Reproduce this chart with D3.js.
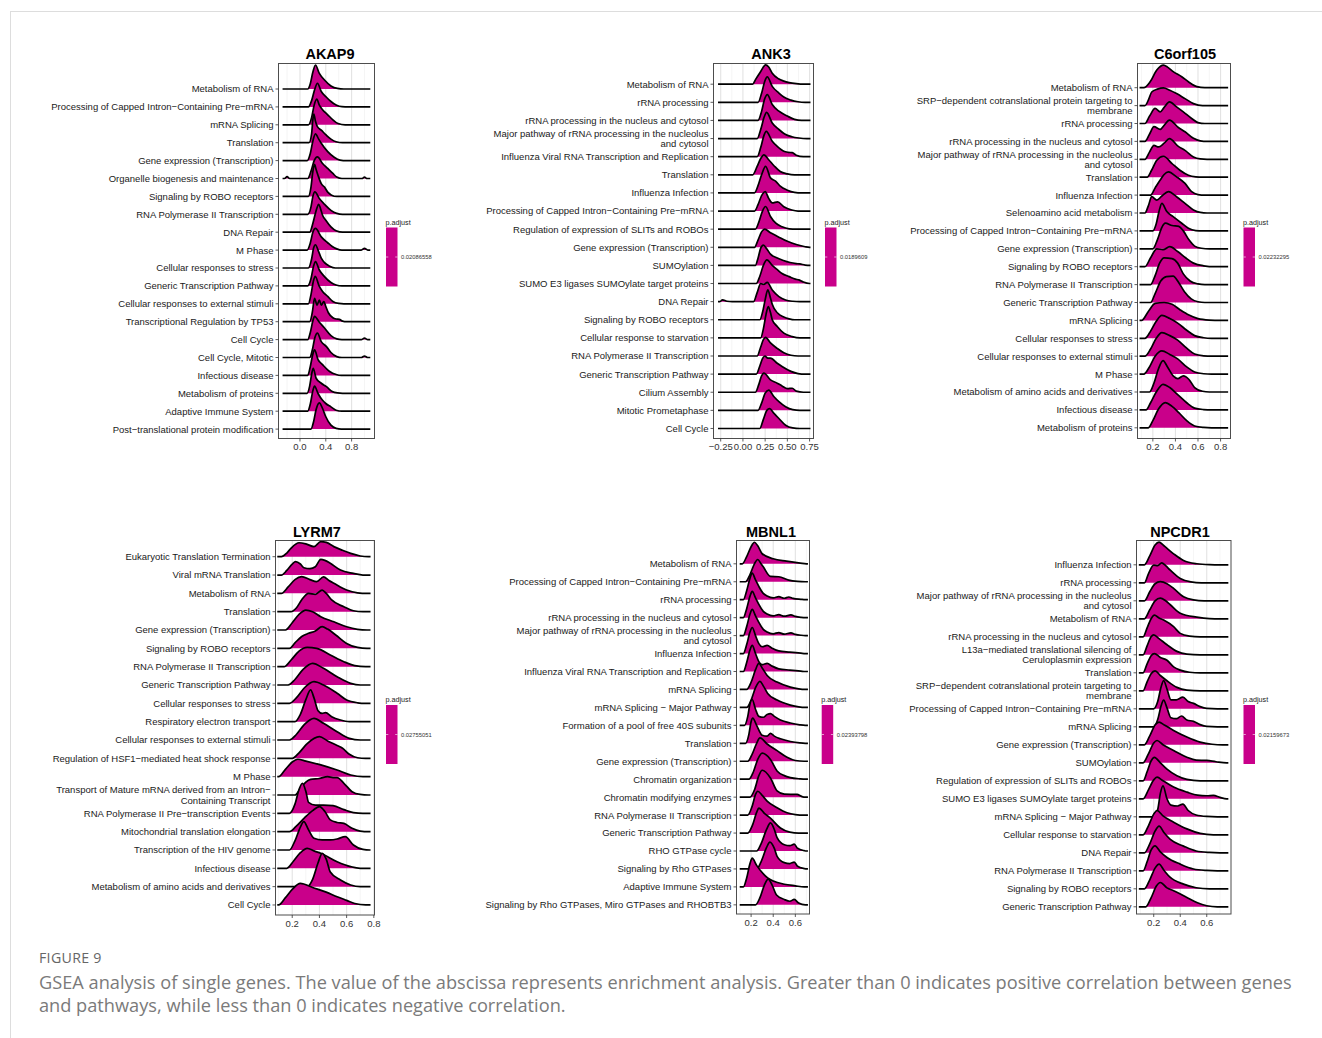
<!DOCTYPE html>
<html>
<head>
<meta charset="utf-8">
<script src="https://cdn.jsdelivr.net/npm/d3@7"></script>
<style>
  body { margin: 0; background: #fff; }
  svg text { font-family: "Liberation Sans", Arial, Helvetica, sans-serif; }
  svg text.caption { font-family: "Open Sans", "Noto Sans", sans-serif; }
</style>
</head>
<body>
<svg id="fig" width="1322" height="1038"></svg>
<script>
// ---------------------------------------------------------------------------
// GSEA ridge plots of single genes: pathway terms, density ridges ([x, height]
// knots, height in row units), adjusted p-values and axis ticks per gene.
// ---------------------------------------------------------------------------

const akap9Terms = [
  "Metabolism of RNA",
  "Processing of Capped Intron\u2212Containing Pre\u2212mRNA",
  "mRNA Splicing",
  "Translation",
  "Gene expression (Transcription)",
  "Organelle biogenesis and maintenance",
  "Signaling by ROBO receptors",
  "RNA Polymerase II Transcription",
  "DNA Repair",
  "M Phase",
  "Cellular responses to stress",
  "Generic Transcription Pathway",
  "Cellular responses to external stimuli",
  "Transcriptional Regulation by TP53",
  "Cell Cycle",
  "Cell Cycle, Mitotic",
  "Infectious disease",
  "Metabolism of proteins",
  "Adaptive Immune System",
  "Post\u2212translational protein modification"
];
const akap9Ridges = [
  [[0.12,0],[0.16,0.3],[0.2,0.95],[0.24,1.34],[0.3,0.87],[0.38,0.5],[0.48,0.17],[0.58,0.03],[0.68,0]],
  [[0.13,0],[0.18,0.35],[0.23,1.0],[0.27,1.32],[0.33,0.86],[0.41,0.54],[0.48,0.3],[0.56,0.11],[0.65,0.01],[0.75,0]],
  [[0.13,0],[0.18,0.4],[0.22,1.1],[0.26,1.43],[0.3,1.1],[0.35,0.84],[0.43,0.56],[0.51,0.28],[0.59,0.07],[0.7,0]],
  [[0.14,0],[0.18,0.5],[0.2,1.3],[0.215,1.6],[0.24,1.2],[0.27,0.9],[0.33,0.7],[0.4,0.45],[0.48,0.2],[0.56,0.05],[0.66,0]],
  [[0.11,0],[0.16,0.4],[0.2,1.1],[0.24,1.49],[0.29,1.2],[0.33,0.97],[0.43,0.5],[0.53,0.19],[0.62,0.03],[0.72,0]],
  [[-0.24,0],[-0.2,0.1],[-0.16,0],[0.12,0],[0.17,0.4],[0.22,1.0],[0.27,1.21],[0.35,0.84],[0.43,0.56],[0.51,0.28],[0.57,0.08],[0.65,0],[0.96,0],[1.0,0.08],[1.04,0]],
  [[0.13,0],[0.17,0.5],[0.2,1.4],[0.226,1.79],[0.25,1.5],[0.28,1.17],[0.33,0.71],[0.38,0.52],[0.43,0.24],[0.49,0.07],[0.57,0]],
  [[0.12,0],[0.17,0.4],[0.2,1.0],[0.23,1.25],[0.3,0.88],[0.38,0.56],[0.48,0.22],[0.57,0.05],[0.66,0]],
  [[0.15,0],[0.2,0.5],[0.25,1.2],[0.29,1.56],[0.32,1.3],[0.35,0.95],[0.4,0.67],[0.48,0.3],[0.56,0.08],[0.66,0]],
  [[0.11,0],[0.16,0.4],[0.2,1.0],[0.24,1.21],[0.33,0.74],[0.43,0.41],[0.5,0.2],[0.57,0.07],[0.65,0],[0.95,0],[1.0,0.1],[1.05,0]],
  [[0.13,0],[0.18,0.5],[0.21,1.1],[0.24,1.3],[0.28,1.0],[0.33,0.55],[0.38,0.3],[0.46,0.1],[0.55,0]],
  [[0.12,0],[0.17,0.4],[0.21,1.1],[0.24,1.36],[0.3,0.89],[0.38,0.52],[0.48,0.19],[0.56,0.05],[0.65,0]],
  [[0.13,0],[0.17,0.5],[0.21,1.3],[0.236,1.53],[0.3,0.97],[0.35,0.69],[0.43,0.41],[0.51,0.13],[0.6,0.02],[0.68,0]],
  [[0.15,0],[0.19,0.5],[0.226,1.3],[0.265,0.93],[0.3,1.21],[0.33,0.93],[0.37,1.12],[0.4,0.85],[0.44,0.5],[0.51,0.22],[0.56,0.15],[0.61,0.13],[0.66,0.03],[0.72,0]],
  [[0.12,0],[0.16,0.4],[0.2,1.05],[0.226,1.3],[0.3,0.97],[0.38,0.65],[0.48,0.22],[0.57,0.04],[0.65,0],[0.95,0],[1.0,0.08],[1.05,0]],
  [[0.15,0],[0.19,0.4],[0.23,1.1],[0.27,1.36],[0.33,0.89],[0.41,0.61],[0.48,0.28],[0.57,0.05],[0.65,0],[0.95,0],[1.0,0.08],[1.05,0]],
  [[0.12,0],[0.16,0.5],[0.2,1.2],[0.226,1.43],[0.28,0.88],[0.35,0.6],[0.46,0.22],[0.56,0.05],[0.64,0]],
  [[0.11,0],[0.15,0.4],[0.185,1.15],[0.205,1.4],[0.25,0.84],[0.33,0.56],[0.41,0.37],[0.5,0.1],[0.58,0.02],[0.66,0]],
  [[0.12,0],[0.16,0.4],[0.2,1.15],[0.226,1.4],[0.28,0.99],[0.35,0.61],[0.4,0.43],[0.48,0.24],[0.56,0.05],[0.65,0]],
  [[0.17,0],[0.21,0.4],[0.25,1.1],[0.3,1.47],[0.35,1.15],[0.4,0.69],[0.48,0.22],[0.56,0.04],[0.64,0]]
];
const akap9Range = [-0.27, 1.09];
const akap9Padj = "0.02086558";
const akap9Ticks = [0.0, 0.4, 0.8];
const akap9TickLabels = ["0.0", "0.4", "0.8"];
const akap9Minor = [-0.2, 0.2, 0.6, 1.0];

const ank3Terms = [
  "Metabolism of RNA",
  "rRNA processing",
  "rRNA processing in the nucleus and cytosol",
  "Major pathway of rRNA processing in the nucleolus\nand cytosol",
  "Influenza Viral RNA Transcription and Replication",
  "Translation",
  "Influenza Infection",
  "Processing of Capped Intron\u2212Containing Pre\u2212mRNA",
  "Regulation of expression of SLITs and ROBOs",
  "Gene expression (Transcription)",
  "SUMOylation",
  "SUMO E3 ligases SUMOylate target proteins",
  "DNA Repair",
  "Signaling by ROBO receptors",
  "Cellular response to starvation",
  "RNA Polymerase II Transcription",
  "Generic Transcription Pathway",
  "Cilium Assembly",
  "Mitotic Prometaphase",
  "Cell Cycle"
];
const ank3Ridges = [
  [[0.11,0],[0.14,0.24],[0.2,0.7],[0.255,1.07],[0.29,0.95],[0.33,0.61],[0.4,0.3],[0.46,0.17],[0.52,0.09],[0.6,0.03],[0.68,0]],
  [[0.17,0],[0.21,0.5],[0.245,1.15],[0.274,1.4],[0.33,0.88],[0.405,0.51],[0.46,0.29],[0.54,0.12],[0.62,0.03],[0.7,0]],
  [[0.17,0],[0.21,0.5],[0.245,1.2],[0.274,1.43],[0.33,0.88],[0.405,0.51],[0.5,0.24],[0.58,0.06],[0.66,0]],
  [[0.16,0],[0.2,0.5],[0.24,1.2],[0.266,1.45],[0.33,0.86],[0.405,0.5],[0.47,0.25],[0.55,0.1],[0.63,0.03],[0.72,0]],
  [[0.16,0],[0.2,0.5],[0.235,1.15],[0.262,1.4],[0.33,0.85],[0.386,0.57],[0.46,0.3],[0.51,0.24],[0.555,0.22],[0.6,0.08],[0.68,0]],
  [[0.11,0],[0.16,0.46],[0.2,0.9],[0.236,1.1],[0.29,0.83],[0.35,0.5],[0.42,0.18],[0.5,0.05],[0.58,0]],
  [[0.13,0],[0.17,0.4],[0.21,1.0],[0.255,1.47],[0.31,0.83],[0.37,0.64],[0.42,0.37],[0.5,0.15],[0.58,0.03],[0.66,0]],
  [[0.13,0],[0.17,0.35],[0.21,0.85],[0.25,1.07],[0.29,0.7],[0.33,0.45],[0.39,0.51],[0.46,0.24],[0.55,0.06],[0.62,0]],
  [[0.14,0],[0.18,0.4],[0.22,1.0],[0.255,1.25],[0.31,0.7],[0.37,0.33],[0.44,0.13],[0.52,0.02],[0.6,0]],
  [[0.13,0],[0.17,0.4],[0.21,0.85],[0.245,1.0],[0.31,0.8],[0.39,0.6],[0.5,0.33],[0.6,0.15],[0.7,0.03],[0.75,0]],
  [[0.14,0],[0.17,0.4],[0.2,0.95],[0.23,1.12],[0.27,0.9],[0.31,0.62],[0.38,0.42],[0.455,0.27],[0.53,0.16],[0.6,0.1],[0.64,0.08],[0.7,0.02],[0.75,0]],
  [[0.15,0],[0.19,0.4],[0.23,1.0],[0.27,1.3],[0.33,1.0],[0.39,0.75],[0.44,0.55],[0.52,0.38],[0.59,0.24],[0.63,0.2],[0.68,0.08],[0.75,0]],
  [[-0.26,0],[-0.23,0.1],[-0.18,0.02],[-0.12,0],[0.12,0],[0.16,0.5],[0.2,1.0],[0.235,0.95],[0.274,1.06],[0.33,0.64],[0.405,0.28],[0.48,0.09],[0.56,0.02],[0.64,0]],
  [[0.19,0],[0.22,0.4],[0.25,1.1],[0.28,1.65],[0.31,1.2],[0.33,0.85],[0.39,0.37],[0.46,0.15],[0.52,0.05],[0.58,0]],
  [[0.2,0],[0.23,0.5],[0.26,1.3],[0.285,1.73],[0.31,1.4],[0.33,1.0],[0.386,0.63],[0.46,0.26],[0.555,0.07],[0.64,0]],
  [[0.16,0],[0.2,0.5],[0.23,0.9],[0.255,1.03],[0.31,0.72],[0.386,0.42],[0.46,0.18],[0.54,0.04],[0.62,0]],
  [[0.15,0],[0.19,0.45],[0.22,0.85],[0.247,1.0],[0.28,0.88],[0.31,0.88],[0.386,0.6],[0.44,0.42],[0.54,0.15],[0.62,0.03],[0.7,0]],
  [[0.14,0],[0.18,0.45],[0.21,0.9],[0.236,1.05],[0.31,0.68],[0.386,0.5],[0.44,0.35],[0.5,0.2],[0.555,0.22],[0.6,0.06],[0.68,0]],
  [[0.17,0],[0.21,0.4],[0.25,0.95],[0.29,1.12],[0.35,0.75],[0.405,0.48],[0.48,0.2],[0.56,0.04],[0.64,0]],
  [[0.19,0],[0.23,0.5],[0.27,1.0],[0.3,1.1],[0.35,0.83],[0.405,0.55],[0.48,0.18],[0.56,0.03],[0.64,0]]
];
const ank3Range = [-0.28, 0.76];
const ank3Padj = "0.0189609";
const ank3Ticks = [-0.25, 0, 0.25, 0.5, 0.75];
const ank3TickLabels = ["\u22120.25", "0.00", "0.25", "0.50", "0.75"];
const ank3Minor = [-0.125, 0.125, 0.375, 0.625];

const c6orf105Terms = [
  "Metabolism of RNA",
  "SRP\u2212dependent cotranslational protein targeting to\nmembrane",
  "rRNA processing",
  "rRNA processing in the nucleus and cytosol",
  "Major pathway of rRNA processing in the nucleolus\nand cytosol",
  "Translation",
  "Influenza Infection",
  "Selenoamino acid metabolism",
  "Processing of Capped Intron\u2212Containing Pre\u2212mRNA",
  "Gene expression (Transcription)",
  "Signaling by ROBO receptors",
  "RNA Polymerase II Transcription",
  "Generic Transcription Pathway",
  "mRNA Splicing",
  "Cellular responses to stress",
  "Cellular responses to external stimuli",
  "M Phase",
  "Metabolism of amino acids and derivatives",
  "Infectious disease",
  "Metabolism of proteins"
];
const c6orf105Ridges = [
  [[0.12,0],[0.176,0.33],[0.235,0.99],[0.294,1.26],[0.33,1.15],[0.38,0.9],[0.456,0.61],[0.515,0.33],[0.59,0.06],[0.66,0]],
  [[0.13,0],[0.16,0.3],[0.19,0.76],[0.24,0.92],[0.294,0.99],[0.35,0.86],[0.41,0.67],[0.485,0.39],[0.56,0.11],[0.64,0]],
  [[0.13,0],[0.17,0.4],[0.22,0.84],[0.265,0.65],[0.3,0.9],[0.347,1.21],[0.41,0.93],[0.47,0.65],[0.544,0.28],[0.6,0.05],[0.66,0]],
  [[0.13,0],[0.17,0.4],[0.21,0.82],[0.265,0.67],[0.3,0.9],[0.347,1.19],[0.426,0.78],[0.485,0.54],[0.56,0.17],[0.62,0.03],[0.68,0]],
  [[0.13,0],[0.17,0.4],[0.21,0.78],[0.25,0.69],[0.3,0.9],[0.347,1.15],[0.426,0.72],[0.485,0.5],[0.56,0.13],[0.62,0.02],[0.68,0]],
  [[0.15,0],[0.19,0.4],[0.235,0.95],[0.294,1.17],[0.37,0.76],[0.44,0.39],[0.515,0.11],[0.58,0.02],[0.64,0]],
  [[0.18,0],[0.22,0.4],[0.265,0.84],[0.3,1.15],[0.338,1.3],[0.41,1.02],[0.485,0.65],[0.544,0.19],[0.6,0.03],[0.66,0]],
  [[0.13,0],[0.16,0.4],[0.19,0.91],[0.235,0.72],[0.28,0.95],[0.338,1.19],[0.41,0.91],[0.485,0.54],[0.56,0.17],[0.62,0.03],[0.68,0]],
  [[0.2,0],[0.23,0.4],[0.255,1.1],[0.28,1.54],[0.324,1.08],[0.38,0.8],[0.456,0.43],[0.515,0.15],[0.58,0.02],[0.64,0]],
  [[0.2,0],[0.24,0.5],[0.28,1.2],[0.31,1.43],[0.37,1.3],[0.43,1.25],[0.47,1.0],[0.52,0.5],[0.57,0.15],[0.63,0.03],[0.7,0]],
  [[0.13,0],[0.18,0.5],[0.235,1.0],[0.29,0.95],[0.35,1.12],[0.42,0.85],[0.49,0.5],[0.56,0.2],[0.65,0.05],[0.75,0]],
  [[0.18,0],[0.22,0.5],[0.26,1.2],[0.3,1.49],[0.37,1.45],[0.42,1.2],[0.47,0.6],[0.53,0.2],[0.6,0.04],[0.66,0]],
  [[0.18,0],[0.22,0.5],[0.27,1.2],[0.32,1.45],[0.38,1.47],[0.43,1.1],[0.48,0.6],[0.54,0.2],[0.6,0.04],[0.66,0]],
  [[0.1,0],[0.16,0.5],[0.22,0.95],[0.3,1.0],[0.37,0.9],[0.44,0.6],[0.52,0.3],[0.6,0.1],[0.7,0.02],[0.8,0]],
  [[0.13,0],[0.18,0.4],[0.23,0.95],[0.28,1.28],[0.35,1.1],[0.42,0.85],[0.5,0.45],[0.57,0.15],[0.65,0.03],[0.72,0]],
  [[0.13,0],[0.18,0.4],[0.23,1.0],[0.28,1.32],[0.35,1.15],[0.42,0.9],[0.5,0.45],[0.57,0.12],[0.65,0.02],[0.72,0]],
  [[0.12,0],[0.17,0.4],[0.22,1.0],[0.28,1.3],[0.35,1.1],[0.42,0.85],[0.5,0.4],[0.57,0.12],[0.65,0.02],[0.72,0]],
  [[0.17,0],[0.21,0.5],[0.25,1.3],[0.29,1.75],[0.33,1.4],[0.38,0.9],[0.42,0.75],[0.47,0.9],[0.52,0.7],[0.57,0.25],[0.64,0.04],[0.7,0]],
  [[0.14,0],[0.18,0.4],[0.23,1.0],[0.29,1.43],[0.35,1.25],[0.42,0.85],[0.5,0.4],[0.57,0.1],[0.65,0.02],[0.72,0]],
  [[0.16,0],[0.2,0.4],[0.25,1.05],[0.31,1.41],[0.37,1.2],[0.43,0.85],[0.5,0.4],[0.57,0.1],[0.65,0.02],[0.72,0]]
];
const c6orf105Range = [0.082, 0.867];
const c6orf105Padj = "0.02232295";
const c6orf105Ticks = [0.2, 0.4, 0.6, 0.8];
const c6orf105TickLabels = ["0.2", "0.4", "0.6", "0.8"];
const c6orf105Minor = [0.1, 0.3, 0.5, 0.7];

const lyrm7Terms = [
  "Eukaryotic Translation Termination",
  "Viral mRNA Translation",
  "Metabolism of RNA",
  "Translation",
  "Gene expression (Transcription)",
  "Signaling by ROBO receptors",
  "RNA Polymerase II Transcription",
  "Generic Transcription Pathway",
  "Cellular responses to stress",
  "Respiratory electron transport",
  "Cellular responses to external stimuli",
  "Regulation of HSF1\u2212mediated heat shock response",
  "M Phase",
  "Transport of Mature mRNA derived from an Intron\u2212\nContaining Transcript",
  "RNA Polymerase II Pre\u2212transcription Events",
  "Mitochondrial translation elongation",
  "Transcription of the HIV genome",
  "Infectious disease",
  "Metabolism of amino acids and derivatives",
  "Cell Cycle"
];
const lyrm7Ridges = [
  [[0.12,0],[0.16,0.2],[0.19,0.45],[0.25,0.76],[0.3,0.7],[0.36,0.55],[0.41,0.82],[0.45,0.78],[0.506,0.55],[0.57,0.35],[0.63,0.18],[0.7,0.04],[0.76,0]],
  [[0.12,0],[0.16,0.25],[0.2,0.6],[0.225,0.73],[0.26,0.6],[0.286,0.4],[0.33,0.35],[0.37,0.45],[0.41,0.85],[0.44,0.8],[0.48,0.64],[0.555,0.27],[0.65,0.09],[0.72,0]],
  [[0.12,0],[0.17,0.35],[0.22,0.75],[0.27,0.91],[0.33,0.75],[0.38,0.64],[0.43,0.9],[0.47,0.7],[0.506,0.55],[0.6,0.18],[0.68,0.03],[0.75,0]],
  [[0.19,0],[0.23,0.2],[0.27,0.65],[0.32,1.0],[0.37,0.95],[0.42,1.18],[0.45,1.0],[0.49,0.64],[0.58,0.27],[0.65,0.05],[0.72,0]],
  [[0.15,0],[0.2,0.4],[0.25,0.85],[0.3,1.09],[0.35,1.0],[0.41,0.73],[0.506,0.45],[0.6,0.18],[0.68,0.04],[0.75,0]],
  [[0.18,0],[0.22,0.3],[0.27,0.65],[0.32,0.82],[0.37,0.95],[0.42,1.18],[0.46,1.05],[0.52,0.73],[0.6,0.27],[0.68,0.05],[0.75,0]],
  [[0.14,0],[0.19,0.35],[0.25,0.85],[0.31,1.05],[0.38,1.0],[0.48,0.64],[0.58,0.27],[0.66,0.06],[0.74,0]],
  [[0.17,0],[0.22,0.3],[0.28,0.85],[0.35,1.18],[0.43,0.91],[0.53,0.45],[0.63,0.09],[0.7,0]],
  [[0.18,0],[0.23,0.3],[0.29,0.85],[0.36,1.18],[0.43,1.0],[0.53,0.55],[0.6,0.18],[0.68,0.03],[0.74,0]],
  [[0.22,0],[0.26,0.4],[0.3,1.2],[0.335,1.73],[0.36,1.3],[0.39,0.6],[0.42,0.45],[0.445,0.49],[0.49,0.27],[0.555,0.09],[0.62,0]],
  [[0.18,0],[0.23,0.3],[0.29,0.85],[0.36,1.18],[0.43,0.91],[0.53,0.45],[0.62,0.09],[0.7,0]],
  [[0.2,0],[0.25,0.3],[0.31,0.8],[0.4,1.18],[0.46,0.95],[0.53,0.7],[0.57,0.55],[0.62,0.22],[0.68,0.03],[0.74,0]],
  [[0.1,0],[0.15,0.4],[0.2,0.8],[0.24,0.95],[0.3,0.85],[0.41,0.64],[0.53,0.36],[0.63,0.09],[0.72,0]],
  [[0.22,0],[0.26,0.35],[0.3,0.7],[0.335,0.85],[0.4,0.9],[0.46,1.0],[0.5,0.95],[0.53,0.95],[0.58,0.64],[0.64,0.18],[0.7,0.03],[0.76,0]],
  [[0.18,0],[0.22,0.5],[0.25,1.3],[0.275,1.64],[0.3,1.2],[0.32,0.6],[0.37,0.45],[0.43,0.45],[0.5,0.42],[0.58,0.2],[0.65,0.04],[0.72,0]],
  [[0.18,0],[0.23,0.3],[0.29,0.75],[0.35,1.15],[0.4,1.36],[0.44,1.1],[0.48,0.64],[0.53,0.5],[0.58,0.45],[0.64,0.18],[0.7,0.03],[0.76,0]],
  [[0.18,0],[0.22,0.5],[0.26,1.25],[0.285,1.55],[0.32,1.1],[0.36,0.64],[0.42,0.55],[0.48,0.55],[0.53,0.6],[0.59,0.73],[0.65,0.27],[0.72,0.03],[0.77,0]],
  [[0.16,0],[0.21,0.4],[0.26,0.85],[0.31,1.09],[0.36,0.95],[0.41,0.82],[0.53,0.36],[0.63,0.09],[0.7,0]],
  [[0.31,0],[0.35,0.4],[0.39,1.3],[0.42,1.82],[0.45,1.5],[0.48,0.8],[0.555,0.36],[0.63,0.09],[0.7,0]],
  [[0.1,0],[0.15,0.4],[0.2,0.85],[0.26,1.18],[0.35,0.95],[0.45,0.7],[0.53,0.45],[0.6,0.25],[0.66,0.08],[0.74,0]]
];
const lyrm7Range = [0.09, 0.776];
const lyrm7Padj = "0.02755051";
const lyrm7Ticks = [0.2, 0.4, 0.6, 0.8];
const lyrm7TickLabels = ["0.2", "0.4", "0.6", "0.8"];
const lyrm7Minor = [0.1, 0.3, 0.5, 0.7];

const mbnl1Terms = [
  "Metabolism of RNA",
  "Processing of Capped Intron\u2212Containing Pre\u2212mRNA",
  "rRNA processing",
  "rRNA processing in the nucleus and cytosol",
  "Major pathway of rRNA processing in the nucleolus\nand cytosol",
  "Influenza Infection",
  "Influenza Viral RNA Transcription and Replication",
  "mRNA Splicing",
  "mRNA Splicing \u2212 Major Pathway",
  "Formation of a pool of free 40S subunits",
  "Translation",
  "Gene expression (Transcription)",
  "Chromatin organization",
  "Chromatin modifying enzymes",
  "RNA Polymerase II Transcription",
  "Generic Transcription Pathway",
  "RHO GTPase cycle",
  "Signaling by Rho GTPases",
  "Adaptive Immune System",
  "Signaling by Rho GTPases, Miro GTPases and RHOBTB3"
];
const mbnl1Ridges = [
  [[0.12,0],[0.16,0.4],[0.2,0.95],[0.23,1.2],[0.26,1.0],[0.3,0.56],[0.4,0.28],[0.52,0.15],[0.645,0.04],[0.7,0]],
  [[0.15,0],[0.19,0.4],[0.23,1.0],[0.26,1.24],[0.29,1.0],[0.31,0.83],[0.375,0.3],[0.45,0.28],[0.54,0.09],[0.62,0.02],[0.69,0]],
  [[0.13,0],[0.16,0.5],[0.19,1.2],[0.21,1.48],[0.24,1.1],[0.27,0.74],[0.31,0.35],[0.345,0.2],[0.4,0.1],[0.45,0.17],[0.5,0.08],[0.54,0.15],[0.58,0.07],[0.65,0.02],[0.69,0]],
  [[0.13,0],[0.16,0.5],[0.19,1.2],[0.21,1.46],[0.24,1.1],[0.27,0.74],[0.31,0.35],[0.345,0.2],[0.4,0.1],[0.45,0.17],[0.5,0.08],[0.56,0.15],[0.6,0.07],[0.65,0.02],[0.69,0]],
  [[0.13,0],[0.16,0.5],[0.19,1.2],[0.21,1.46],[0.24,1.1],[0.27,0.74],[0.31,0.35],[0.345,0.2],[0.4,0.1],[0.45,0.17],[0.5,0.08],[0.56,0.15],[0.6,0.07],[0.65,0.02],[0.69,0]],
  [[0.13,0],[0.16,0.5],[0.19,1.2],[0.21,1.45],[0.24,1.0],[0.27,0.55],[0.3,0.38],[0.345,0.45],[0.39,0.3],[0.45,0.15],[0.55,0.08],[0.65,0.02],[0.69,0]],
  [[0.13,0],[0.16,0.5],[0.19,1.2],[0.21,1.45],[0.24,1.0],[0.27,0.55],[0.3,0.38],[0.345,0.45],[0.39,0.3],[0.45,0.15],[0.55,0.08],[0.65,0.02],[0.69,0]],
  [[0.16,0],[0.2,0.4],[0.24,1.1],[0.27,1.45],[0.3,1.2],[0.345,0.78],[0.435,0.41],[0.555,0.13],[0.63,0.03],[0.69,0]],
  [[0.16,0],[0.2,0.4],[0.24,1.1],[0.28,1.45],[0.31,1.2],[0.35,0.78],[0.435,0.41],[0.555,0.13],[0.63,0.03],[0.69,0]],
  [[0.14,0],[0.17,0.5],[0.19,1.2],[0.21,1.44],[0.24,0.9],[0.27,0.5],[0.31,0.45],[0.345,0.6],[0.375,0.65],[0.41,0.5],[0.465,0.3],[0.555,0.13],[0.64,0.03],[0.69,0]],
  [[0.15,0],[0.18,0.5],[0.2,1.2],[0.215,1.4],[0.25,1.0],[0.3,0.45],[0.345,0.4],[0.375,0.55],[0.41,0.4],[0.465,0.25],[0.555,0.1],[0.64,0.02],[0.69,0]],
  [[0.17,0],[0.21,0.4],[0.25,1.0],[0.28,1.3],[0.345,0.96],[0.435,0.59],[0.525,0.22],[0.6,0.04],[0.68,0]],
  [[0.18,0],[0.22,0.4],[0.26,1.1],[0.3,1.45],[0.375,1.1],[0.435,0.46],[0.5,0.2],[0.555,0.09],[0.64,0.02],[0.69,0]],
  [[0.19,0],[0.23,0.4],[0.27,1.2],[0.3,1.5],[0.375,1.07],[0.435,0.35],[0.5,0.17],[0.615,0.15],[0.66,0.03],[0.69,0]],
  [[0.17,0],[0.21,0.5],[0.24,1.15],[0.26,1.33],[0.3,1.1],[0.345,0.78],[0.435,0.41],[0.525,0.13],[0.6,0.03],[0.68,0]],
  [[0.17,0],[0.21,0.4],[0.25,1.15],[0.27,1.39],[0.32,1.1],[0.375,0.83],[0.465,0.28],[0.55,0.05],[0.63,0]],
  [[0.25,0],[0.29,0.4],[0.34,1.2],[0.375,1.57],[0.41,1.2],[0.435,0.74],[0.5,0.35],[0.55,0.3],[0.59,0.38],[0.62,0.15],[0.68,0.02],[0.7,0]],
  [[0.25,0],[0.29,0.4],[0.34,1.2],[0.37,1.5],[0.41,1.15],[0.435,0.7],[0.5,0.35],[0.55,0.3],[0.59,0.38],[0.62,0.15],[0.68,0.02],[0.7,0]],
  [[0.13,0],[0.16,0.5],[0.19,1.3],[0.21,1.6],[0.25,1.2],[0.3,0.8],[0.35,0.5],[0.4,0.33],[0.5,0.15],[0.6,0.06],[0.68,0]],
  [[0.24,0],[0.28,0.4],[0.32,1.1],[0.355,1.43],[0.39,1.1],[0.43,0.55],[0.5,0.3],[0.55,0.2],[0.59,0.3],[0.63,0.1],[0.69,0]]
];
const mbnl1Range = [0.097, 0.714];
const mbnl1Padj = "0.02393798";
const mbnl1Ticks = [0.2, 0.4, 0.6];
const mbnl1TickLabels = ["0.2", "0.4", "0.6"];
const mbnl1Minor = [0.1, 0.3, 0.5, 0.7];

const npcdr1Terms = [
  "Influenza Infection",
  "rRNA processing",
  "Major pathway of rRNA processing in the nucleolus\nand cytosol",
  "Metabolism of RNA",
  "rRNA processing in the nucleus and cytosol",
  "L13a\u2212mediated translational silencing of\nCeruloplasmin expression",
  "Translation",
  "SRP\u2212dependent cotranslational protein targeting to\nmembrane",
  "Processing of Capped Intron\u2212Containing Pre\u2212mRNA",
  "mRNA Splicing",
  "Gene expression (Transcription)",
  "SUMOylation",
  "Regulation of expression of SLITs and ROBOs",
  "SUMO E3 ligases SUMOylate target proteins",
  "mRNA Splicing \u2212 Major Pathway",
  "Cellular response to starvation",
  "DNA Repair",
  "RNA Polymerase II Transcription",
  "Signaling by ROBO receptors",
  "Generic Transcription Pathway"
];
const npcdr1Ridges = [
  [[0.13,0],[0.17,0.5],[0.21,1.1],[0.24,1.26],[0.275,1.07],[0.35,0.61],[0.425,0.24],[0.525,0.06],[0.62,0.01],[0.7,0]],
  [[0.13,0],[0.16,0.5],[0.2,0.98],[0.23,0.95],[0.26,1.11],[0.29,0.95],[0.325,0.7],[0.4,0.24],[0.48,0.05],[0.56,0]],
  [[0.13,0],[0.17,0.5],[0.21,0.95],[0.25,1.06],[0.3,0.95],[0.35,0.69],[0.425,0.22],[0.5,0.05],[0.58,0]],
  [[0.13,0],[0.17,0.5],[0.21,1.0],[0.25,1.15],[0.29,1.0],[0.325,0.78],[0.4,0.31],[0.525,0.09],[0.62,0.01],[0.7,0]],
  [[0.12,0],[0.15,0.5],[0.18,1.0],[0.205,1.2],[0.24,1.05],[0.275,0.93],[0.35,0.56],[0.4,0.19],[0.47,0.04],[0.55,0]],
  [[0.12,0],[0.15,0.5],[0.18,1.0],[0.2,1.11],[0.24,0.9],[0.3,0.56],[0.375,0.19],[0.45,0.04],[0.55,0]],
  [[0.12,0],[0.15,0.5],[0.18,0.95],[0.205,1.07],[0.25,0.85],[0.3,0.7],[0.35,0.33],[0.4,0.15],[0.47,0.03],[0.55,0]],
  [[0.12,0],[0.15,0.5],[0.18,0.95],[0.21,1.11],[0.25,0.85],[0.3,0.56],[0.375,0.19],[0.45,0.04],[0.55,0]],
  [[0.2,0],[0.23,0.4],[0.255,1.2],[0.275,1.57],[0.3,1.1],[0.33,0.5],[0.37,0.5],[0.42,0.65],[0.46,0.4],[0.5,0.3],[0.55,0.12],[0.6,0.02],[0.68,0]],
  [[0.2,0],[0.23,0.4],[0.255,1.15],[0.275,1.48],[0.3,1.05],[0.33,0.5],[0.37,0.45],[0.41,0.6],[0.45,0.38],[0.5,0.3],[0.55,0.12],[0.6,0.02],[0.68,0]],
  [[0.13,0],[0.17,0.5],[0.21,1.1],[0.24,1.26],[0.28,1.1],[0.35,0.8],[0.45,0.43],[0.55,0.15],[0.64,0.03],[0.72,0]],
  [[0.12,0],[0.16,0.5],[0.2,1.1],[0.225,1.24],[0.27,1.0],[0.35,0.69],[0.45,0.31],[0.52,0.15],[0.6,0.13],[0.67,0.06],[0.75,0]],
  [[0.12,0],[0.15,0.5],[0.18,1.1],[0.205,1.3],[0.25,1.0],[0.3,0.65],[0.375,0.28],[0.45,0.08],[0.55,0]],
  [[0.12,0],[0.16,0.5],[0.2,1.05],[0.225,1.2],[0.27,1.0],[0.35,0.65],[0.45,0.37],[0.53,0.2],[0.6,0.17],[0.65,0.19],[0.7,0.08],[0.75,0]],
  [[0.2,0],[0.23,0.4],[0.25,1.3],[0.27,1.72],[0.3,1.0],[0.33,0.65],[0.38,0.6],[0.42,0.7],[0.46,0.35],[0.52,0.1],[0.6,0.02],[0.68,0]],
  [[0.12,0],[0.16,0.5],[0.2,1.15],[0.225,1.35],[0.27,1.05],[0.35,0.7],[0.45,0.33],[0.55,0.08],[0.65,0]],
  [[0.13,0],[0.17,0.5],[0.21,1.2],[0.24,1.48],[0.28,1.1],[0.325,0.74],[0.425,0.37],[0.52,0.1],[0.62,0.02],[0.7,0]],
  [[0.12,0],[0.15,0.5],[0.18,1.15],[0.21,1.39],[0.25,1.05],[0.3,0.74],[0.4,0.37],[0.5,0.1],[0.6,0.02],[0.68,0]],
  [[0.13,0],[0.17,0.5],[0.21,1.15],[0.24,1.37],[0.28,1.0],[0.325,0.63],[0.425,0.26],[0.52,0.06],[0.62,0]],
  [[0.14,0],[0.18,0.5],[0.22,1.15],[0.25,1.35],[0.3,1.05],[0.35,0.89],[0.45,0.52],[0.525,0.24],[0.6,0.06],[0.68,0]]
];
const npcdr1Range = [0.0875, 0.763];
const npcdr1Padj = "0.02159673";
const npcdr1Ticks = [0.2, 0.4, 0.6];
const npcdr1TickLabels = ["0.2", "0.4", "0.6"];
const npcdr1Minor = [0.1, 0.3, 0.5, 0.7];

// ---------------------------------------------------------------------------
// Panel geometry (pixel frame of each facet and its legend)
// ---------------------------------------------------------------------------
const panels = [
  { gene: "AKAP9", terms: akap9Terms, ridges: akap9Ridges, range: akap9Range, padj: akap9Padj,
    ticks: akap9Ticks, tickLabels: akap9TickLabels, minor: akap9Minor,
    box: [278.5, 63.5, 374.5, 438.5], xDomain: [-0.333, 1.155], base0: 89, step: 17.9,
    titleX: 330, titleY: 58.5, legend: [386, 227.5] },
  { gene: "ANK3", terms: ank3Terms, ridges: ank3Ridges, range: ank3Range, padj: ank3Padj,
    ticks: ank3Ticks, tickLabels: ank3TickLabels, minor: ank3Minor,
    box: [713.5, 63.5, 813.5, 438.5], xDomain: [-0.331, 0.794], base0: 84.2, step: 18.12,
    titleX: 771, titleY: 58.5, legend: [825, 227.5] },
  { gene: "C6orf105", terms: c6orf105Terms, ridges: c6orf105Ridges, range: c6orf105Range, padj: c6orf105Padj,
    ticks: c6orf105Ticks, tickLabels: c6orf105TickLabels, minor: c6orf105Minor,
    box: [1137.5, 63.5, 1230.5, 438.5], xDomain: [0.064, 0.888], base0: 87.7, step: 17.9,
    titleX: 1185, titleY: 58.5, legend: [1243.5, 227.5] },
  { gene: "LYRM7", terms: lyrm7Terms, ridges: lyrm7Ridges, range: lyrm7Range, padj: lyrm7Padj,
    ticks: lyrm7Ticks, tickLabels: lyrm7TickLabels, minor: lyrm7Minor,
    box: [275.5, 540.5, 374.5, 915], xDomain: [0.077, 0.805], base0: 556.7, step: 18.33,
    titleX: 317, titleY: 537, legend: [386, 705] },
  { gene: "MBNL1", terms: mbnl1Terms, ridges: mbnl1Ridges, range: mbnl1Range, padj: mbnl1Padj,
    ticks: mbnl1Ticks, tickLabels: mbnl1TickLabels, minor: mbnl1Minor,
    box: [736.5, 540.5, 809.5, 914], xDomain: [0.068, 0.728], base0: 563.8, step: 17.95,
    titleX: 771, titleY: 537, legend: [821.7, 705] },
  { gene: "NPCDR1", terms: npcdr1Terms, ridges: npcdr1Ridges, range: npcdr1Range, padj: npcdr1Padj,
    ticks: npcdr1Ticks, tickLabels: npcdr1TickLabels, minor: npcdr1Minor,
    box: [1136.5, 540.5, 1231, 914], xDomain: [0.07, 0.783], base0: 564.8, step: 18.0,
    titleX: 1180, titleY: 537, legend: [1243.5, 705] }
];

const FILL = "#C9008A";
const svg = d3.select("#fig");

// page frame
svg.append("line").attr("x1", 10).attr("x2", 1322).attr("y1", 11.5).attr("y2", 11.5)
  .attr("stroke", "#DDDDDD").attr("stroke-width", 1);
svg.append("line").attr("x1", 10.5).attr("x2", 10.5).attr("y1", 11).attr("y2", 1038)
  .attr("stroke", "#DDDDDD").attr("stroke-width", 1);

panels.forEach((p, k) => {
  const [bx0, by0, bx1, by1] = p.box;
  const g = svg.append("g");
  const x = d3.scaleLinear().domain(p.xDomain).range([bx0, bx1]);
  const y = d3.scalePoint().domain(d3.range(p.terms.length))
    .range([p.base0, p.base0 + (p.terms.length - 1) * p.step]);
  const h = d3.scaleLinear().domain([0, 1]).range([0, p.step]);

  // grid
  g.selectAll(".minor").data(p.minor).join("line")
    .attr("x1", d => x(d)).attr("x2", d => x(d)).attr("y1", by0).attr("y2", by1)
    .attr("stroke", "#F0F0F0").attr("stroke-width", 0.7);
  g.selectAll(".major").data(p.ticks).join("line")
    .attr("x1", d => x(d)).attr("x2", d => x(d)).attr("y1", by0).attr("y2", by1)
    .attr("stroke", "#E3E3E3").attr("stroke-width", 1.1);

  // ridges, top row first so lower rows overlap the ones above
  const clipId = "clip" + k;
  g.append("clipPath").attr("id", clipId).append("rect")
    .attr("x", bx0).attr("y", by0).attr("width", bx1 - bx0).attr("height", by1 - by0);
  const rg = g.append("g").attr("clip-path", `url(#${clipId})`);
  p.ridges.forEach((knots, i) => {
    const base = y(i);
    const pts = [[p.range[0], 0], ...knots, [p.range[1], 0]];
    const area = d3.area().x(d => x(d[0])).y0(base).y1(d => base - h(d[1])).curve(d3.curveMonotoneX);
    const line = d3.line().x(d => x(d[0])).y(d => base - h(d[1])).curve(d3.curveMonotoneX);
    rg.append("path").attr("d", area(pts)).attr("fill", FILL);
    rg.append("path").attr("d", line(pts)).attr("fill", "none")
      .attr("stroke", "#000").attr("stroke-width", 1.7).attr("stroke-linejoin", "round");
  });

  // border
  g.append("rect").attr("x", bx0).attr("y", by0).attr("width", bx1 - bx0).attr("height", by1 - by0)
    .attr("fill", "none").attr("stroke", "#4D4D4D").attr("stroke-width", 1);

  // y axis
  p.terms.forEach((t, i) => {
    const yy = y(i);
    g.append("line").attr("x1", bx0 - 3).attr("x2", bx0).attr("y1", yy).attr("y2", yy)
      .attr("stroke", "#333").attr("stroke-width", 0.8);
    const lines = t.split("\n");
    const lh = 10.4;
    const txt = g.append("text").attr("text-anchor", "end").attr("font-size", 9.5).attr("fill", "#1A1A1A");
    lines.forEach((ln, j) => {
      txt.append("tspan").attr("x", bx0 - 5)
        .attr("y", yy + 3.4 + (j - (lines.length - 1) / 2) * lh).text(ln);
    });
  });

  // x axis
  p.ticks.forEach((v, i) => {
    g.append("line").attr("x1", x(v)).attr("x2", x(v)).attr("y1", by1).attr("y2", by1 + 3)
      .attr("stroke", "#333").attr("stroke-width", 0.8);
    g.append("text").attr("x", x(v)).attr("y", by1 + 11.5).attr("text-anchor", "middle")
      .attr("font-size", 9.5).attr("fill", "#333").text(p.tickLabels[i]);
  });

  // title
  g.append("text").attr("x", p.titleX).attr("y", p.titleY).attr("text-anchor", "middle")
    .attr("font-size", 14.5).attr("font-weight", "bold").attr("fill", "#000").text(p.gene);

  // p.adjust legend
  const [lx, ly] = p.legend;
  const lw = 11.5, lhgt = 59;
  g.append("text").attr("x", lx - 0.5).attr("y", ly - 3).attr("font-size", 7.2).attr("fill", "#222").text("p.adjust");
  g.append("rect").attr("x", lx).attr("y", ly).attr("width", lw).attr("height", lhgt).attr("fill", FILL);
  const my = ly + lhgt / 2;
  g.append("line").attr("x1", lx).attr("x2", lx + 2.3).attr("y1", my).attr("y2", my).attr("stroke", "#fff").attr("stroke-width", 0.6);
  g.append("line").attr("x1", lx + lw - 2.3).attr("x2", lx + lw).attr("y1", my).attr("y2", my).attr("stroke", "#fff").attr("stroke-width", 0.6);
  g.append("text").attr("x", lx + lw + 3.5).attr("y", my + 2).attr("font-size", 5.8).attr("fill", "#333").text(p.padj);
});

// caption
svg.append("text").attr("class", "caption").attr("x", 39).attr("y", 963)
  .attr("font-size", 14.2).attr("fill", "#666").attr("letter-spacing", 0.3).text("FIGURE 9");
svg.append("text").attr("class", "caption").attr("x", 39).attr("y", 988.5)
  .attr("font-size", 18.2).attr("fill", "#7A7A7A")
  .text("GSEA analysis of single genes. The value of the abscissa represents enrichment analysis. Greater than 0 indicates positive correlation between genes");
svg.append("text").attr("class", "caption").attr("x", 39).attr("y", 1011.5)
  .attr("font-size", 18.2).attr("fill", "#7A7A7A")
  .text("and pathways, while less than 0 indicates negative correlation.");
</script>
</body>
</html>
